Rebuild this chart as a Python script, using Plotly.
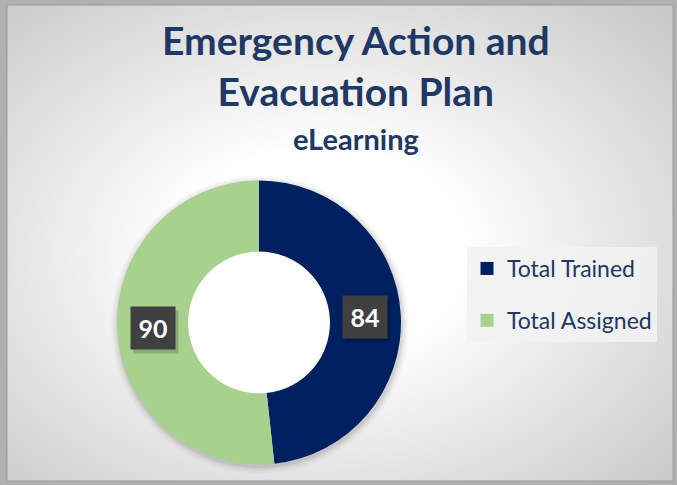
import base64
import math
import plotly.graph_objects as go

# Data
labels = ["Total Trained", "Total Assigned"]
values = [84, 90]
colors = ["#002060", "#A9D18E"]

title_lines = ["Emergency Action and", "Evacuation Plan"]
subtitle = "eLearning"

W, H = 677, 485
navy_text = "#203864"

# pie geometry (pixels)
pie_left, pie_right, pie_top, pie_bottom = 117, 401, 180, 465
hole = 0.5
cx_px = (pie_left + pie_right) / 2
cy_px = (pie_top + pie_bottom) / 2
radius = (pie_right - pie_left) / 2

fig = go.Figure()

# background: radial gradient panel as an inline svg
svg = (
    '<svg xmlns="http://www.w3.org/2000/svg" width="666" height="476" viewBox="0 0 666 476" preserveAspectRatio="none">'
    '<defs><radialGradient id="g" cx="0.47" cy="0.52" r="0.72">'
    '<stop offset="0" stop-color="#ffffff"/>'
    '<stop offset="0.3" stop-color="#ffffff"/>'
    '<stop offset="1" stop-color="#c9c9c9"/>'
    '</radialGradient></defs>'
    '<rect width="666" height="476" fill="url(#g)"/></svg>'
)
src = "data:image/svg+xml;base64," + base64.b64encode(svg.encode()).decode()
fig.add_layout_image(
    source=src, xref="paper", yref="paper",
    x=7 / W, y=1 - 5 / H, sizex=666 / W, sizey=476 / H,
    xanchor="left", yanchor="top", sizing="stretch", layer="below",
)

# frame edge
fig.add_shape(type="rect", xref="paper", yref="paper",
              x0=7 / W, x1=673 / W, y0=1 - 481 / H, y1=1 - 5 / H,
              line=dict(color="#9a9a9a", width=1), layer="below")

# soft shadow round the donut
for k, a in [(7, 0.025), (5, 0.035), (3, 0.045), (1.5, 0.06)]:
    r = radius + k
    fig.add_shape(type="circle", xref="paper", yref="paper",
                  x0=(cx_px - r + 1) / W, x1=(cx_px + r + 1) / W,
                  y0=1 - (cy_px + r + 2) / H, y1=1 - (cy_px - r + 2) / H,
                  line=dict(width=0), fillcolor=f"rgba(0,0,0,{a})", layer="below")
rh = radius * hole
fig.add_shape(type="circle", xref="paper", yref="paper",
              x0=(cx_px - rh) / W, x1=(cx_px + rh) / W,
              y0=1 - (cy_px + rh) / H, y1=1 - (cy_px - rh) / H,
              line=dict(width=0), fillcolor="white", layer="below")

fig.add_trace(go.Pie(
    labels=labels, values=values, hole=hole, sort=False,
    direction="clockwise", rotation=0,
    marker=dict(colors=colors, line=dict(width=0)),
    textinfo="none", showlegend=False,
    domain=dict(x=[pie_left / W, pie_right / W], y=[1 - pie_bottom / H, 1 - pie_top / H]),
))

# legend entries (one group each so the rows get spaced out)
for lab, col in zip(labels, colors):
    fig.add_trace(go.Scatter(
        x=[None], y=[None], mode="markers", name=lab, legendgroup=lab,
        marker=dict(symbol="square", size=13, color=col),
    ))

# value labels in dark boxes, placed at the middle of each slice
total = sum(values)
r_lab = radius * (1 + hole) / 2
cum = 0
for v in values:
    mid = (cum + v / 2) / total * 2 * math.pi
    cum += v
    px = cx_px + r_lab * math.sin(mid)
    py = cy_px - r_lab * math.cos(mid)
    # shadow
    fig.add_annotation(x=(px + 3) / W, y=1 - (py + 4) / H, xref="paper", yref="paper",
                       xanchor="center", yanchor="middle",
                       text=" ", showarrow=False, width=44, height=42, borderpad=0,
                       bgcolor="rgba(0,0,0,0.18)")
    fig.add_annotation(x=px / W, y=1 - py / H, xref="paper", yref="paper",
                       xanchor="center", yanchor="middle",
                       text=f"<b>{v}</b>", showarrow=False, width=44, height=42, borderpad=0,
                       bgcolor="#404040",
                       font=dict(family="Lato", size=25, color="white"))

# title and subtitle
fig.add_annotation(x=356 / W, y=1 - 66 / H, xref="paper", yref="paper",
                   text="<b>" + "<br>".join(title_lines) + "</b>", showarrow=False,
                   xanchor="center", yanchor="middle",
                   font=dict(family="Lato", size=39, color=navy_text))
fig.add_annotation(x=356 / W, y=1 - 138 / H, xref="paper", yref="paper",
                   text=f"<b>{subtitle}</b>", showarrow=False,
                   xanchor="center", yanchor="middle",
                   font=dict(family="Lato", size=29, color=navy_text))

fig.update_layout(
    width=W, height=H,
    margin=dict(l=0, r=0, t=0, b=0),
    paper_bgcolor="#b0b0b0",
    plot_bgcolor="rgba(0,0,0,0)",
    xaxis=dict(visible=False),
    yaxis=dict(visible=False),
    legend=dict(x=467 / W, y=1 - 247 / H, xanchor="left", yanchor="top",
                bgcolor="rgba(242,242,242,0.9)", borderwidth=0,
                tracegroupgap=19, itemclick=False,
                font=dict(family="Lato", size=23, color=navy_text)),
    showlegend=True,
)

fig.write_html("out.html", config={"displayModeBar": False},
               post_script="document.body.style.margin='0';")
